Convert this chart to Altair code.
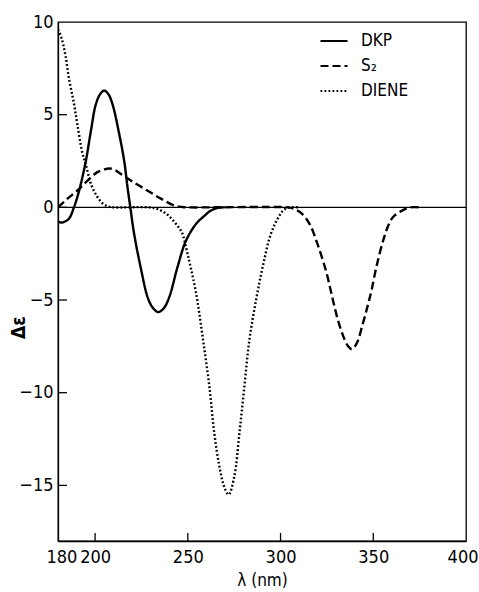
import altair as alt
import pandas as pd

# Circular dichroism spectra: wavelength (nm) vs delta-epsilon
dkp_x = [180, 181.5, 184, 186, 188.6, 191.4, 195, 197.7, 200.4, 202.7, 204.9, 207.2,
         209.4, 213, 215.7, 217.5, 219, 221, 224.7, 228.3, 231, 234, 237, 240, 244.5,
         249, 254.4, 259, 262, 266, 270]
dkp_y = [-0.75, -0.82, -0.75, -0.6, 0, 0.9, 2.5, 4.1, 5.56, 6.1, 6.3, 6.1,
         5.56, 3.96, 2.5, 1.07, 0, -1.4, -3.3, -4.84, -5.4, -5.65, -5.45, -4.84, -3.2,
         -1.8, -0.9, -0.45, -0.2, -0.03, 0]

s2_x = [180, 185, 190.4, 195.8, 201.2, 204.5, 207.6, 210.5, 213.9, 221, 228.3, 235.5,
        242.7, 247, 250, 304, 306.5, 311, 315.7, 320, 324.7, 328, 331, 334, 336.5,
        338.5, 341, 344.3, 347, 349, 351.7, 355.3, 358, 360.7, 366, 370, 375]
s2_y = [0, 0.46, 0.9, 1.43, 1.9, 2.03, 2.1, 2.03, 1.8, 1.34, 0.9, 0.47,
        0.1, 0.02, 0, 0, -0.05, -0.3, -0.9, -2.0, -3.5, -4.9, -6.1, -7.0, -7.5,
        -7.65, -7.35, -6.3, -5.3, -4.5, -3.2, -1.8, -1.0, -0.52, -0.15, 0, 0]

diene_x = [180, 182, 184, 186, 188.6, 190.4, 193, 195, 198, 201, 204, 207, 210,
           229, 234, 238.6, 242, 245, 247, 249.6, 251, 254.4, 258, 261.6, 264.3,
           267, 269.7, 272, 275.1, 277.8, 280.5, 283.2, 286.8, 290.4, 294.9, 299.5,
           302, 305, 310]
diene_y = [9.6, 9.1, 8.2, 6.9, 5.6, 4.5, 3.0, 2.3, 1.2, 0.6, 0.22, 0.05, 0,
           0, -0.1, -0.36, -0.7, -1.07, -1.4, -2.4, -3.0, -4.6, -7.0, -9.66, -12.2,
           -13.96, -15.1, -15.5, -14.5, -12.2, -9.66, -7.15, -5.0, -3.2, -1.4, -0.43,
           -0.12, 0, 0]

series_names = ["DKP", "S₂", "DIENE"]
dash_patterns = [[1, 0], [8, 4], [1.8, 2.2]]

x_ticks = [180, 200, 250, 300, 350, 400]
y_ticks = [10, 5, 0, -5, -10, -15]
x_inner_ticks = [200, 250, 300, 350]
y_inner_ticks = [5, 0, -5, -10, -15]

FONT = "Liberation Sans Narrow, DejaVu Sans Condensed, sans-serif"
W, H = 408, 519

frames = []
for name, xs, ys in zip(series_names, [dkp_x, s2_x, diene_x], [dkp_y, s2_y, diene_y]):
    frames.append(pd.DataFrame({"wl": xs, "de": ys, "series": name}))
curves = pd.concat(frames, ignore_index=True)

xscale = alt.Scale(domain=[180, 400], nice=False, zero=False)
yscale = alt.Scale(domain=[-18, 10], nice=False, zero=False)

x_axis = alt.Axis(values=x_ticks, ticks=False, grid=False, labelPadding=7,
                  labelOverlap=False, labelBound=False, labelFlush=True,
                  labelFlushOffset=12, titlePadding=6)
y_axis = alt.Axis(values=y_ticks, ticks=False, grid=False, labelPadding=5,
                  labelOverlap=False, labelBound=False, labelFlush=False,
                  titleX=-30, titleY=305, titleFontWeight="bold", titleFontSize=19)


def xenc(field):
    return alt.X(field, scale=xscale, title="λ (nm)", axis=x_axis)


def yenc(field):
    return alt.Y(field, scale=yscale, title="Δε", axis=y_axis)


lines = alt.Chart(curves).mark_line(
    color="black", strokeWidth=2.4, interpolate="catmull-rom", clip=True
).encode(
    x=xenc("wl:Q"),
    y=yenc("de:Q"),
    strokeDash=alt.StrokeDash(
        "series:N",
        scale=alt.Scale(domain=series_names, range=dash_patterns),
        legend=alt.Legend(
            title=None, orient="none", legendX=261, legendY=4,
            symbolType="stroke", symbolSize=729, symbolStrokeWidth=2.2,
            symbolStrokeColor="black", labelFont=FONT, labelFontSize=17,
            labelColor="black", labelOffset=12, rowPadding=2, padding=0,
        ),
    ),
    detail="series:N",
)

zero_line = alt.Chart(pd.DataFrame({"de": [0]})).mark_rule(
    color="black", strokeWidth=1.4
).encode(y=yenc("de:Q"))

y_tick_marks = alt.Chart(pd.DataFrame({"de": y_inner_ticks})).mark_rule(
    color="black", strokeWidth=1.3
).encode(
    y=yenc("de:Q"),
    x=alt.value(0), x2=alt.value(9),
)

x_tick_marks = alt.Chart(pd.DataFrame({"wl": x_inner_ticks})).mark_rule(
    color="black", strokeWidth=1.3
).encode(
    x=xenc("wl:Q"),
    y=alt.value(H), y2=alt.value(H - 8),
)

chart = alt.layer(lines, zero_line, y_tick_marks, x_tick_marks).properties(
    width=W, height=H,
    autosize=alt.AutoSizeParams(type="none"),
    padding={"left": 58, "top": 22, "right": 13, "bottom": 51},
    background="white",
).configure_view(
    stroke="black", strokeWidth=1.3
).configure_axis(
    domainColor="black", domainWidth=1.3,
    labelFont=FONT, labelFontSize=18, labelColor="black",
    titleFont=FONT, titleFontSize=17, titleColor="black", titleFontWeight="normal",
)

chart.save("out.html", embed_options={"renderer": "svg", "actions": False})
